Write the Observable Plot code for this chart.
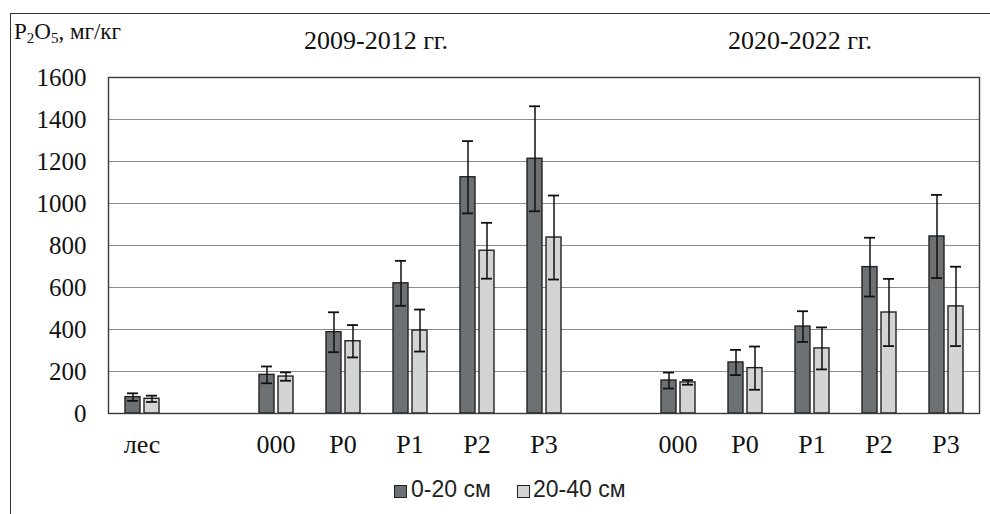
<!DOCTYPE html>
<html><head><meta charset="utf-8">
<script src="https://cdn.jsdelivr.net/npm/d3@7"></script>
<script src="https://cdn.jsdelivr.net/npm/@observablehq/plot@0.6"></script>
<style>
body{margin:0;background:#fff;}
#wrap{position:relative;width:990px;height:514px;overflow:hidden;font-family:"Liberation Serif","Times New Roman",serif;color:#111;}
#wrap svg{position:absolute;left:0;top:0;}
.border{position:absolute;left:10px;top:13px;width:990px;height:520px;border-top:1.3px solid #333;border-left:1.3px solid #333;box-sizing:border-box;}
.t{position:absolute;white-space:nowrap;line-height:1;}
.ytitle{left:14px;top:20px;font-size:23px;}
.ytitle sub{font-size:15px;vertical-align:-4px;line-height:0;}
.period{top:28px;font-size:26px;transform:translateX(-50%);}
.leg{top:478px;font-family:"Liberation Sans",Arial,sans-serif;font-size:23px;color:#222;}
.sw{position:absolute;width:11px;height:11px;border:1.3px solid #222;top:485px;}
</style></head><body><div id="wrap"></div>
<script>
// categories (13 slots: "" = empty gap slot)
const slots = ["лес", "", "000", "P0", "P1", "P2", "P3", "", "000", "P0", "P1", "P2", "P3"];
const depths = ["0-20 см", "20-40 см"];
const periods = ["2009-2012 гг.", "2020-2022 гг."];
// series values, mg/kg
const v020 = [78, null, 184, 387, 620, 1125, 1213, null, 157, 243, 414, 697, 843];
const e020 = [18, null, 40, 95, 107, 172, 250, null, 38, 60, 73, 140, 198];
const v2040 = [70, null, 176, 344, 395, 775, 838, null, 148, 216, 310, 481, 510];
const e2040 = [15, null, 20, 77, 100, 133, 200, null, 11, 103, 100, 160, 189];
const yTicks = [0, 200, 400, 600, 800, 1000, 1200, 1400, 1600];
const colors = ["#6e7174", "#d3d4d4"];

const rows = [];
slots.forEach((s, i) => {
  if (v020[i] != null) rows.push({slot: i, depth: depths[0], value: v020[i], err: e020[i]});
  if (v2040[i] != null) rows.push({slot: i, depth: depths[1], value: v2040[i], err: e2040[i]});
});
const gridRows = slots.flatMap((s, i) => yTicks.map(t => ({slot: i, y: t})));

const chart = Plot.plot({
  width: 990, height: 514,
  marginLeft: 104, marginRight: 7, marginTop: 77, marginBottom: 101,
  style: {fontFamily: "Liberation Serif, Times New Roman, serif", fontSize: "25px", color: "#111", background: "transparent"},
  fx: {domain: d3.range(slots.length), padding: 0, label: null, tickFormat: i => slots[i]},
  x: {domain: depths, paddingInner: 0.23, paddingOuter: 0.853, axis: null},
  y: {domain: [0, 1600], axis: null},
  color: {domain: depths, range: colors},
  marks: [
    Plot.ruleY(gridRows, {fx: "slot", y: "y", stroke: "#8c8c8c", strokeWidth: 1.2}),
    Plot.barY(rows, {fx: "slot", x: "depth", y: "value", fill: "depth", stroke: "#222", strokeWidth: 1.4}),
    Plot.ruleX(rows, {fx: "slot", x: "depth", y1: d => d.value - d.err, y2: d => d.value + d.err, stroke: "#111", strokeWidth: 1.5}),
    Plot.tickY(rows, {fx: "slot", x: "depth", y: d => d.value + d.err, stroke: "#111", strokeWidth: 1.8, insetLeft: 2, insetRight: 2}),
    Plot.tickY(rows, {fx: "slot", x: "depth", y: d => d.value - d.err, stroke: "#111", strokeWidth: 1.8, insetLeft: 2, insetRight: 2}),
    Plot.axisY(yTicks, {tickSize: 0, tickPadding: 22, fontSize: 25, tickFormat: d => String(d)}),
    Plot.axisFx({anchor: "bottom", tickSize: 0, tickPadding: 21, fontSize: 26, tickFormat: i => slots[i], label: null}),
    Plot.frame({facet: "super", stroke: "#3a3a3a", strokeWidth: 1.4})
  ]
});

const wrap = document.getElementById("wrap");
wrap.appendChild(chart);
wrap.insertAdjacentHTML("beforeend", `
  <div class="border"></div>
  <div class="t ytitle">P<sub>2</sub>O<sub>5</sub>, мг/кг</div>
  <div class="t period" style="left:376px">${periods[0]}</div>
  <div class="t period" style="left:800px">${periods[1]}</div>
  <div class="sw" style="left:394px;background:${colors[0]}"></div>
  <div class="t leg" style="left:411px">${depths[0]}</div>
  <div class="sw" style="left:517px;background:${colors[1]}"></div>
  <div class="t leg" style="left:533px">${depths[1]}</div>
`);
</script>
</body></html>
